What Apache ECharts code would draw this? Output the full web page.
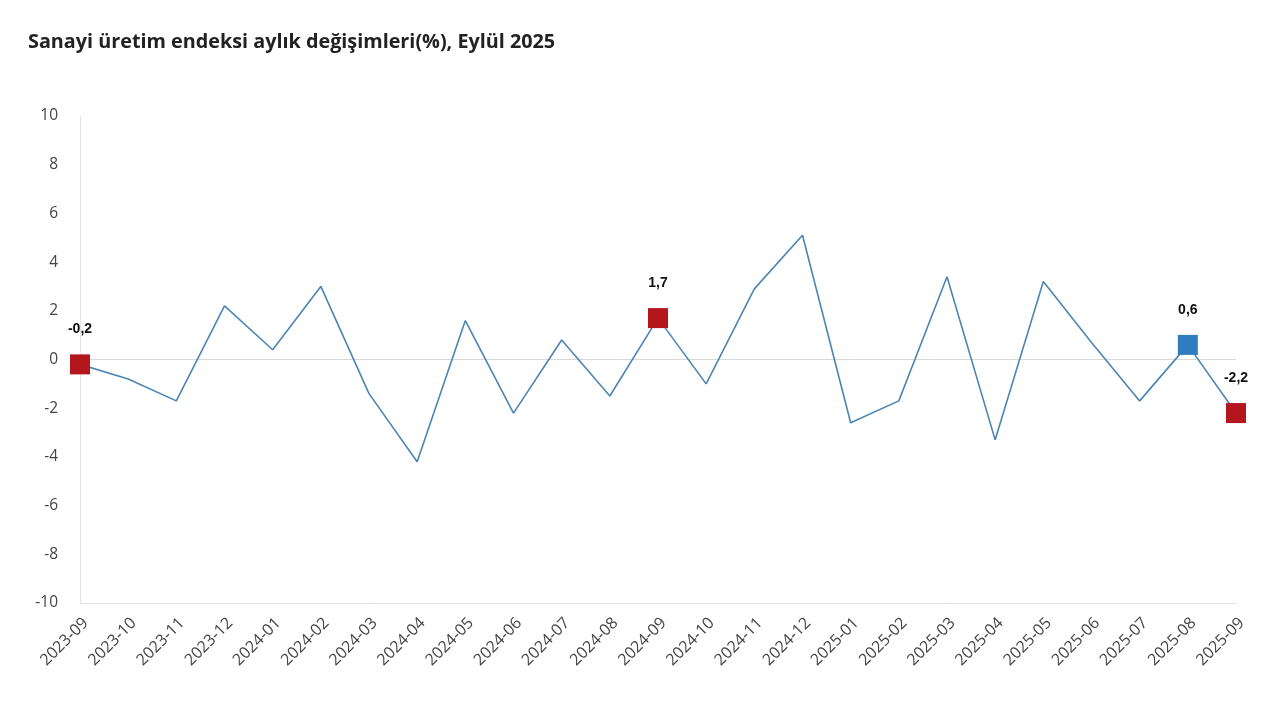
<!DOCTYPE html>
<html>
<head>
<meta charset="utf-8">
<script src="https://cdn.jsdelivr.net/npm/echarts@6/dist/echarts.min.js"></script>
<style>html,body{margin:0;padding:0;background:#fff;}#c{width:1280px;height:711px;}</style>
</head>
<body>
<div id="c"></div>
<script>
var titleText = 'Sanayi üretim endeksi aylık değişimleri(%), Eylül 2025';
var categories = ['2023-09','2023-10','2023-11','2023-12','2024-01','2024-02','2024-03','2024-04','2024-05','2024-06','2024-07','2024-08','2024-09','2024-10','2024-11','2024-12','2025-01','2025-02','2025-03','2025-04','2025-05','2025-06','2025-07','2025-08','2025-09'];
var values = [-0.2,-0.8,-1.7,2.2,0.4,3.0,-1.4,-4.2,1.6,-2.2,0.8,-1.5,1.7,-1.0,2.9,5.1,-2.6,-1.7,3.4,-3.3,3.2,0.7,-1.7,0.6,-2.2];
var redPoints = ['2023-09','2024-09','2025-09'];
var bluePoints = ['2025-08'];
var yTicks = [-10,-8,-6,-4,-2,0,2,4,6,8,10];

var RED = '#b3161d', BLUE = '#2f7dc0';
var data = values.map(function(v, i){
  var c = categories[i];
  var col = redPoints.indexOf(c) >= 0 ? RED : (bluePoints.indexOf(c) >= 0 ? BLUE : null);
  if (!col) return v;
  return {
    value: v,
    symbol: 'rect',
    symbolSize: 20,
    itemStyle: {color: col},
    label: {
      show: true, position: 'top', distance: 18,
      formatter: function(p){ return String(p.value).replace('.', ','); },
      fontFamily: 'Liberation Sans', fontWeight: 'bold', fontSize: 14, color: '#111'
    }
  };
});

var chart = echarts.init(document.getElementById('c'), null, {renderer: 'canvas'});
chart.setOption({
  animation: false,
  backgroundColor: '#fff',
  title: {
    text: titleText, left: 23, top: 27,
    textStyle: {fontFamily: 'Open Sans', fontWeight: 'bold', fontSize: 19.8, color: '#222'}
  },
  grid: {left: 80, right: 44, top: 116, bottom: 108, containLabel: false},
  xAxis: {
    type: 'category', data: categories, boundaryGap: false,
    axisLine: {show: true, onZero: false, lineStyle: {color: '#e3e3e3', width: 1}},
    axisTick: {show: false},
    axisLabel: {rotate: 45, margin: 12, verticalAlign: 'top', fontFamily: 'Open Sans', fontSize: 16, color: '#444', interval: 0},
    splitLine: {show: false}
  },
  yAxis: {
    type: 'value', min: yTicks[0], max: yTicks[yTicks.length-1], interval: 2,
    axisLine: {show: true, lineStyle: {color: '#e3e3e3', width: 1}},
    axisTick: {show: false},
    axisLabel: {margin: 22, fontFamily: 'Open Sans', fontSize: 15.5, color: '#444'},
    splitLine: {show: false}
  },
  series: [{
    type: 'line', data: [], z: 1, silent: true,
    markLine: {
      z: 1, silent: true, symbol: 'none', label: {show: false},
      lineStyle: {color: '#d9d9d9', width: 1, type: 'solid'},
      data: [{yAxis: 0}]
    }
  }, {
    type: 'line', data: data,
    symbol: 'none', showSymbol: true,
    lineStyle: {color: '#4b86b3', width: 1.6},
    itemStyle: {color: '#4b86b3'},
    z: 3
  }]
});
</script>
</body>
</html>
